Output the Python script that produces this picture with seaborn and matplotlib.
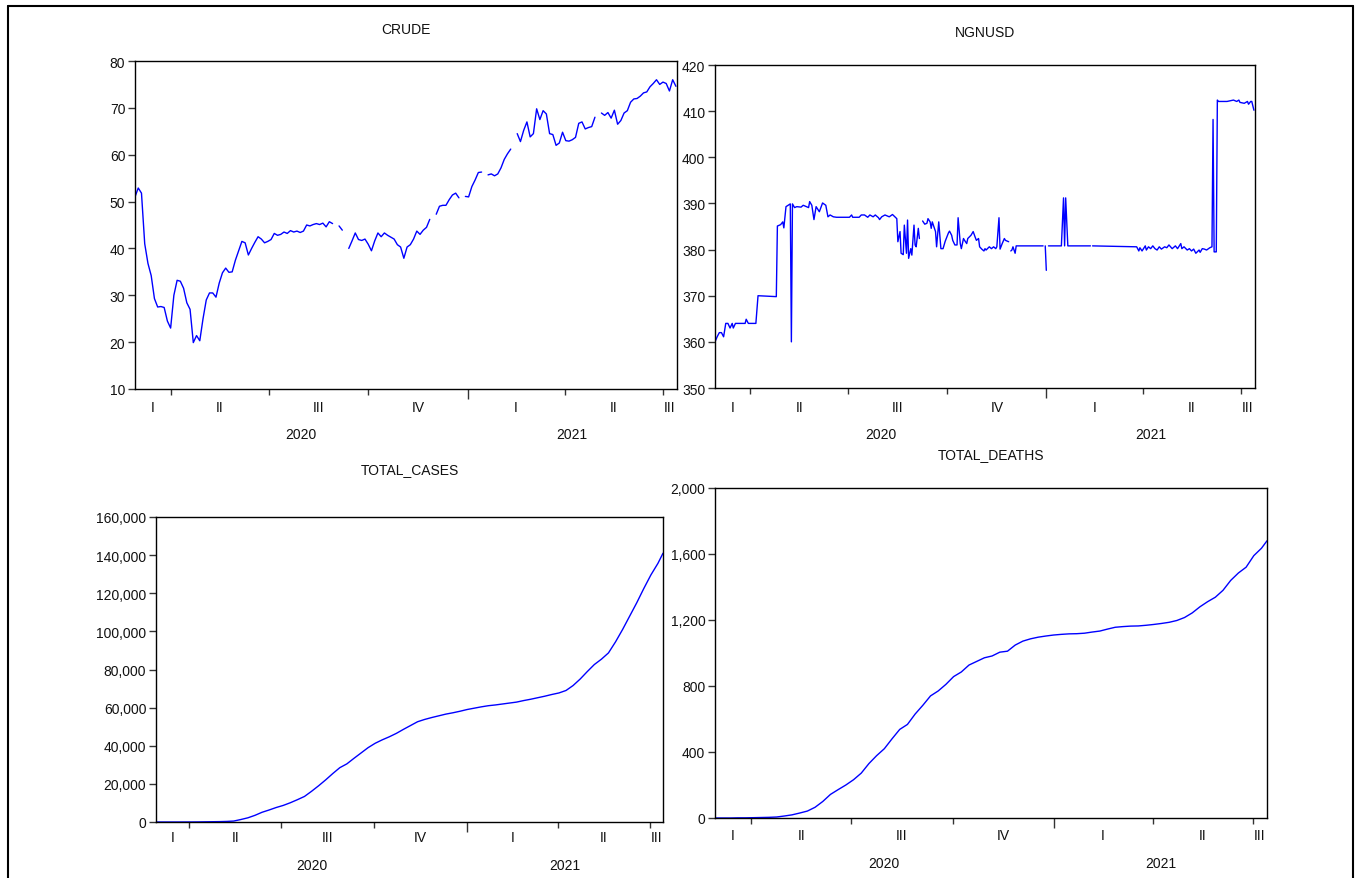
import numpy as np
import pandas as pd
import matplotlib
matplotlib.use("Agg")
import matplotlib.pyplot as plt
import matplotlib.dates as mdates
from matplotlib.lines import Line2D
from matplotlib.ticker import FuncFormatter
import seaborn as sns

nan = np.nan

# sample range shown on every panel
START = pd.Timestamp("2020-02-28")
END = pd.Timestamp("2021-07-14")

# CRUDE, one reading every 3 days from START (gaps = NA in the source)
crude = [
    51.0, 52.9, 51.8, 41.0, 36.8, 34.2, 29.3, 27.5, 27.6, 27.4, 24.5, 23.0,
    30.0, 33.2, 33.0, 31.5, 28.4, 27.0, 19.9, 21.4, 20.3, 25.0, 29.0, 30.5,
    30.5, 29.6, 32.6, 34.8, 35.8, 34.9, 35.0, 37.5, 39.5, 41.5, 41.2, 38.6,
    40.0, 41.3, 42.5, 42.0, 41.2, 41.5, 41.9, 43.2, 42.8, 43.0, 43.5, 43.2,
    43.8, 43.5, 43.7, 43.4, 43.7, 45.0, 44.8, 45.1, 45.3, 45.1, 45.4, 44.6,
    45.7, 45.3, nan, 44.8, 43.9, nan, 40.0, 41.6, 43.3, 41.9, 41.7, 42.0,
    40.9, 39.5, 41.6, 43.3, 42.5, 43.3, 42.8, 42.4, 42.0, 40.8, 40.3, 37.9,
    40.3, 40.8, 42.0, 43.7, 43.0, 43.9, 44.5, 46.2, nan, 47.3, 49.0, 49.2,
    49.2, 50.4, 51.4, 51.8, 50.8, nan, 51.1, 51.0, 53.2, 54.6, 56.2, 56.3,
    nan, 55.7, 55.9, 55.5, 55.9, 57.2, 59.0, 60.2, 61.2, nan, 64.5, 62.8,
    65.2, 67.0, 63.8, 64.5, 69.8, 67.5, 69.4, 68.7, 64.5, 64.3, 62.0, 62.5,
    64.8, 63.0, 62.9, 63.2, 63.7, 66.7, 67.0, 65.5, 65.8, 66.0, 68.0, nan,
    68.9, 68.4, 69.0, 67.8, 69.5, 66.5, 67.3, 68.9, 69.4, 71.2, 71.9, 72.0,
    72.5, 73.2, 73.4, 74.5, 75.2, 76.0, 75.0, 75.5, 75.2, 73.6, 76.0, 74.6,
]

# NGNUSD, day number after START and the reading on that day
ngnusd_day = [
    0, 2, 4, 6, 8, 10, 12, 14, 16, 17, 19, 28, 29, 31, 38, 40, 57, 58, 61, 63,
    64, 66, 68, 70, 71, 72, 74, 76, 80, 82, 87, 88, 90, 92, 94, 97, 100, 103,
    105, 107, 110, 113, 125, 127, 128, 134, 136, 139, 142, 144, 147, 149, 152,
    153, 155, 158, 162, 165, 169, 170, 172, 173, 175, 176, 178, 179, 180, 182,
    183, 185, 186, 187, 189, 190, 191, 193, 195, 197, 198, 200, 201, 202, 203,
    205, 206, 208, 210, 212, 214, 215, 217, 218, 220, 221, 223, 225, 226, 228,
    229, 231, 232, 234, 235, 238, 240, 242, 243, 245, 246, 248, 250, 251, 252,
    255, 257, 259, 261, 262, 264, 265, 267, 269, 270, 273, 274, 275, 276, 277,
    279, 280, 305, 306, 307, 308, 309, 310, 322, 324, 325, 326, 328, 349, 350,
    351, 392, 394, 395, 397, 400, 401, 403, 405, 407, 409, 411, 413, 415, 418,
    420, 422, 425, 428, 430, 433, 434, 436, 439, 441, 443, 445, 447, 450, 451,
    453, 455, 457, 460, 462, 463, 464, 466, 467, 468, 476, 478, 482, 485, 487,
    488, 492, 495, 496, 498, 499, 501,
]
ngnusd = [
    360.0, 361.1, 362.0, 362.0, 361.1, 364.0, 364.0, 363.0, 364.0, 363.0,
    364.0, 364.0, 364.9, 364.0, 364.0, 370.0, 369.8, 385.1, 385.4, 386.0,
    384.7, 389.3, 389.6, 389.9, 360.0, 389.9, 389.1, 389.3, 389.2, 389.6,
    389.1, 390.4, 389.6, 386.5, 389.3, 388.2, 390.1, 389.6,
    387.1, 387.5, 387.1, 387.0, 387.0, 387.5, 387.0, 387.0, 387.5, 387.5,
    387.0, 387.5, 387.1, 387.5, 386.9,
    386.5, 387.1, 387.5, 387.1, 387.6, 386.7, 381.7, 383.9, 379.2, 378.9,
    385.3, 379.2, 386.4, 378.1, 380.2,
    378.8, 385.3, 381.0, 380.6, 384.6, 382.4, nan, 386.2, 385.5, 385.7,
    386.7, 386.0, 384.6, 386.0, 385.3,
    383.9, 380.6, 386.0, 380.2, 380.2, 381.8, 382.4, 383.6, 384.0, 383.1,
    382.0, 381.0, 381.0, 386.9, 381.3,
    380.2, 382.4, 382.0, 381.3, 382.4, 383.1, 383.9, 382.6, 382.0, 382.4,
    380.6, 380.1, 379.7, 380.2, 379.9,
    380.6, 380.2, 380.6, 380.2, 380.6, 386.9, 380.1, 381.3, 382.4, 382.0,
    381.7, nan, 379.7, 379.9, 380.6,
    379.2, 380.8, 380.8, nan, 380.8, 375.5, nan, 380.8, 380.8, 391.2,
    380.8, 391.2, 380.8, 380.8, nan,
    380.8, 380.6, 379.7, 380.4, 379.7, 380.8, 379.9, 380.6, 380.2, 380.8,
    380.2, 379.9, 380.6, 380.1, 380.6,
    380.4, 381.0, 380.2, 380.8, 380.2, 381.3, 380.2, 380.6, 379.9, 380.2,
    379.7, 380.1, 379.2, 379.9, 379.4,
    380.2, 380.1, 379.9, 380.4, 380.6, 408.2, 379.5, 379.5, 412.4, 412.1,
    412.1, 412.2, 412.4, 412.1, 412.4,
    411.9, 411.7, 412.1, 411.5, 412.1, 412.1, 410.2,
]

# TOTAL_CASES and TOTAL_DEATHS, weekly readings from START, last one on END
total_cases = [
    0, 0, 0, 0, 10, 20, 50, 100, 150, 200,
    300, 500, 1300, 2200, 3500, 5100, 6300, 7600, 8700, 10100,
    11700, 13400, 16100, 19000, 22100, 25400, 28500, 30500, 33400, 36200,
    39000, 41300, 43100, 44700, 46500, 48600, 50600, 52600, 53800, 54800,
    55700, 56600, 57300, 58100, 59000, 59700, 60400, 61000, 61400, 61900,
    62400, 62900, 63700, 64400, 65200, 66000, 66900, 67700, 69000, 71600,
    75000, 78900, 82600, 85400, 88700, 94500, 101000, 108000, 115000, 122500,
    129600, 135700, 141000,
]
total_deaths = [
    0, 0, 0, 1, 1, 2, 3, 4, 6, 12,
    19, 30, 42, 65, 100, 143, 172, 200, 232, 272,
    330, 378, 420, 480, 537, 567, 630, 683, 740, 770,
    810, 857, 885, 927, 949, 971, 982, 1005, 1011, 1048,
    1072, 1086, 1096, 1103, 1109, 1113, 1116, 1117, 1120, 1127,
    1133, 1145, 1156, 1160, 1163, 1164, 1168, 1173, 1179, 1186,
    1197, 1215, 1243, 1280, 1311, 1338, 1380, 1440, 1485, 1520,
    1590, 1635, 1680,
]

crude_dates = pd.date_range(START, periods=len(crude), freq="3D")
ngnusd_dates = START + pd.to_timedelta(ngnusd_day, unit="D")
covid_dates = pd.date_range(START, periods=len(total_cases) - 1, freq="7D").append(pd.DatetimeIndex([END]))

sns.set_theme(style="ticks")
plt.rcParams["font.family"] = ["Liberation Sans", "DejaVu Sans"]
plt.rcParams["axes.linewidth"] = 1.0

W, H = 1356, 879
fig = plt.figure(figsize=(W / 100, H / 100), dpi=100)
fig.patch.set_facecolor("white")

ROMAN = {1: "I", 2: "II", 3: "III", 4: "IV"}
PT = 0.72  # points per pixel at 100 dpi


def box(l, t, r, b):
    return [l / W, 1 - b / H, (r - l) / W, (b - t) / H]


def draw_series(ax, dates, values):
    # seaborn drops NA rows, so draw each unbroken run on its own to keep the gaps
    s = pd.Series(values, index=dates, dtype=float)
    ok = s.notna()
    run_id = (~ok).cumsum()
    for _, seg in s[ok].groupby(run_id[ok]):
        sns.lineplot(x=seg.index, y=seg.values, ax=ax, color="#0000ff",
                     linewidth=1.0, estimator=None, sort=False)


def time_axis(ax, q_off, y_off):
    ax.set_xlim(START, END)
    bounds = pd.date_range("2020-01-01", "2021-10-01", freq="QS")
    inside = [d for d in bounds if START < d < END]
    ax.set_xticks(inside)
    ax.set_xticklabels([""] * len(inside))
    ax.tick_params(axis="x", direction="out", length=4, width=1, color="#333333")
    for tick, d in zip(ax.xaxis.get_major_ticks(), inside):
        if d.month == 1:
            tick.tick1line.set_markersize(7)
    for a, b in zip(bounds[:-1], bounds[1:]):
        lo, hi = max(a, START), min(b, END)
        if lo < hi:
            mid = lo + (hi - lo) / 2
            ax.annotate(ROMAN[a.quarter], xy=(mdates.date2num(mid), 0),
                        xycoords=("data", "axes fraction"),
                        xytext=(0, -q_off * PT), textcoords="offset points",
                        ha="center", va="center", fontsize=10, color="#111111")
    for yr in (2020, 2021):
        lo = max(pd.Timestamp(f"{yr}-01-01"), START)
        hi = min(pd.Timestamp(f"{yr + 1}-01-01"), END)
        mid = lo + (hi - lo) / 2
        ax.annotate(str(yr), xy=(mdates.date2num(mid), 0),
                    xycoords=("data", "axes fraction"),
                    xytext=(0, -y_off * PT), textcoords="offset points",
                    ha="center", va="center", fontsize=10, color="#111111")


def panel(rect, dates, values, ylim, yticks, title, title_y, q_off, y_off, comma=False):
    ax = fig.add_axes(box(*rect))
    draw_series(ax, dates, values)
    ax.set_ylim(*ylim)
    ax.set_yticks(yticks)
    if comma:
        ax.yaxis.set_major_formatter(FuncFormatter(lambda v, p: f"{v:,.0f}"))
    ax.tick_params(axis="y", direction="out", length=5, width=1, color="#333333",
                   labelsize=10, labelcolor="#111111", pad=2)
    for s in ax.spines.values():
        s.set_visible(True)
        s.set_color("black")
        s.set_linewidth(1.0)
    ax.set_xlabel("")
    ax.set_ylabel("")
    time_axis(ax, q_off, y_off)
    l, t, r, b = rect
    fig.text((l + r) / 2 / W, 1 - title_y / H, title, ha="center", va="center",
             fontsize=10, color="#111111")
    return ax


panel((135, 62, 677, 390), crude_dates, crude, (10, 80), range(10, 81, 10),
      "CRUDE", 30, 18, 45)
panel((715, 66, 1255, 389), ngnusd_dates, ngnusd, (350, 420), range(350, 421, 10),
      "NGNUSD", 33, 19, 46)
panel((156, 518, 663, 823), covid_dates, total_cases, (0, 160000), range(0, 160001, 20000),
      "TOTAL_CASES", 470, 15, 43, comma=True)
panel((715, 489, 1267, 819), covid_dates, total_deaths, (0, 2000), range(0, 2001, 400),
      "TOTAL_DEATHS", 455, 17, 45, comma=True)

# outer frame of the graph window (no bottom edge, it runs off the picture)
frame = dict(transform=fig.transFigure, color="black", lw=1.5)
fig.add_artist(Line2D([8 / W, 8 / W], [0, 1 - 7 / H], **frame))
fig.add_artist(Line2D([8 / W, 1353 / W], [1 - 7 / H, 1 - 7 / H], **frame))
fig.add_artist(Line2D([1353 / W, 1353 / W], [1 - 7 / H, 0], **frame))

fig.savefig("out.png", dpi=100, facecolor="white")
